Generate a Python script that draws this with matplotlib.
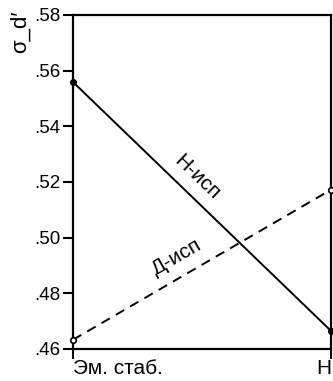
import matplotlib
matplotlib.use("Agg")
import matplotlib.pyplot as plt

plt.rcParams['font.family'] = ['Liberation Sans', 'DejaVu Sans']

# conditions on x, two series of sigma_d'
conditions = ["Эм. стаб.", "Н"]
n_isp = [0.5559, 0.4665]
d_isp = [0.4633, 0.5172]
y_ticks = [0.46, 0.48, 0.50, 0.52, 0.54, 0.56, 0.58]
y_tick_labels = [".46", ".48", ".50", ".52", ".54", ".56", ".58"]

fig = plt.figure(figsize=(3.33, 3.81), dpi=100)
ax = fig.add_axes([0.219, 0.084, 0.775, 0.877])

xs = range(len(conditions))
ax.plot(xs, n_isp, color="black", lw=1.4, marker="o", ms=4,
        mfc="black", mec="black", clip_on=False, zorder=3)
ax.plot(xs, d_isp, color="black", lw=1.4, ls=(0, (5, 3.5)), marker="o",
        ms=4, mfc="white", mec="black", mew=1.2, clip_on=False, zorder=3)

ax.text(0.48, 0.5215, "Н-исп", rotation=-44, ha="center", va="center",
        fontsize=15, rotation_mode="anchor")
ax.text(0.403, 0.4930, "Д-исп", rotation=30, ha="center", va="center",
        fontsize=15, rotation_mode="anchor")

ax.set_xlim(0, 1)
ax.set_ylim(0.46, 0.58)
ax.set_yticks(y_ticks)
ax.set_yticklabels(y_tick_labels, fontsize=13.5)
ax.set_xticks(list(xs))
ax.set_xticklabels(conditions, fontsize=15)
labels = ax.get_xticklabels()
labels[0].set_ha("left")
labels[1].set_ha("right")

ax.tick_params(axis="y", direction="out", length=7, width=1.5, pad=2)
ax.tick_params(axis="x", direction="out", length=7, width=1.5, pad=0)
for s in ax.spines.values():
    s.set_linewidth(1.6)

fig.text(0.062, 0.972, "σ_d′", rotation=90, ha="center", va="top", fontsize=16)

fig.savefig("out.png", dpi=100)
